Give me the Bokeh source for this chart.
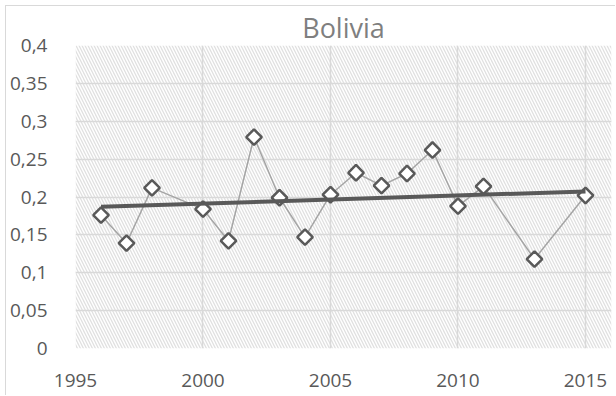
import numpy as np
from bokeh.plotting import figure
from bokeh.models import FixedTicker, CustomJSTickFormatter, BoxAnnotation, Range1d
from bokeh.embed import file_html
from bokeh.resources import INLINE

title_text = "Bolivia"
years = [1996, 1997, 1998, 2000, 2001, 2002, 2003, 2004, 2005, 2006,
         2007, 2008, 2009, 2010, 2011, 2013, 2015]
values = [0.176, 0.139, 0.212, 0.184, 0.142, 0.279, 0.199, 0.147, 0.203, 0.232,
          0.215, 0.231, 0.262, 0.188, 0.214, 0.118, 0.202]
x_ticks = [1995, 2000, 2005, 2010, 2015]
y_ticks = [0, 0.05, 0.1, 0.15, 0.2, 0.25, 0.3, 0.35, 0.4]

FONT = "Open Sans"

p = figure(width=610, height=390, output_backend="svg", toolbar_location=None,
           x_range=Range1d(1995, 2016.02), y_range=Range1d(0, 0.4),
           min_border_left=68, min_border_right=5, min_border_top=0, min_border_bottom=48)
p.margin = (5, 0, 0, 5)
p.styles = {"border-top": "1px solid #d9d9d9", "border-left": "1px solid #d9d9d9"}
p.outline_line_color = None
p.background_fill_color = "white"
p.border_fill_color = "white"

p.title.text = title_text
p.title.text_font = FONT
p.title.text_font_size = "27px"
p.title.text_font_style = "normal"
p.title.text_color = "#7f7f7f"
p.title.align = "center"
p.title.offset = 10
p.title.standoff = 0

# hatched plot area background
p.add_layout(BoxAnnotation(fill_alpha=0, line_color=None, hatch_pattern="\\",
                           hatch_color="#e0e0e0", hatch_scale=6, hatch_weight=1.3,
                           level="image"))

for ax in (p.xaxis[0], p.yaxis[0]):
    ax.axis_line_color = None
    ax.major_tick_line_color = None
    ax.minor_tick_line_color = None
    ax.major_label_text_font = FONT
    ax.major_label_text_font_size = "19px"
    ax.major_label_text_color = "#595959"

p.xaxis.ticker = FixedTicker(ticks=x_ticks)
p.yaxis.ticker = FixedTicker(ticks=y_ticks)
p.yaxis.formatter = CustomJSTickFormatter(code="""
    var s = tick.toFixed(2).replace(/0+$/, '').replace(/\\.$/, '');
    return s.replace('.', ',');
""")
p.xaxis.major_label_standoff = 19
p.yaxis.major_label_standoff = 22

p.xgrid.ticker = FixedTicker(ticks=x_ticks)
p.ygrid.ticker = FixedTicker(ticks=y_ticks)
for g in (p.xgrid[0], p.ygrid[0]):
    g.grid_line_color = "#d9d9d9"
    g.grid_line_width = 1.5

# series line + markers
p.line(years, values, line_color="#a5a5a5", line_width=1.5)
p.scatter(years, values, marker="square", angle=np.pi / 4, size=11,
          line_color="#595959", line_width=2.5, fill_color="white")

# linear trendline computed from the data
coef = np.polyfit(years, values, 1)
tx = np.array([years[0], years[-1]], dtype=float)
p.line(tx, np.polyval(coef, tx), line_color="#595959", line_width=4)

open("out.html", "w").write(file_html(p, INLINE))
